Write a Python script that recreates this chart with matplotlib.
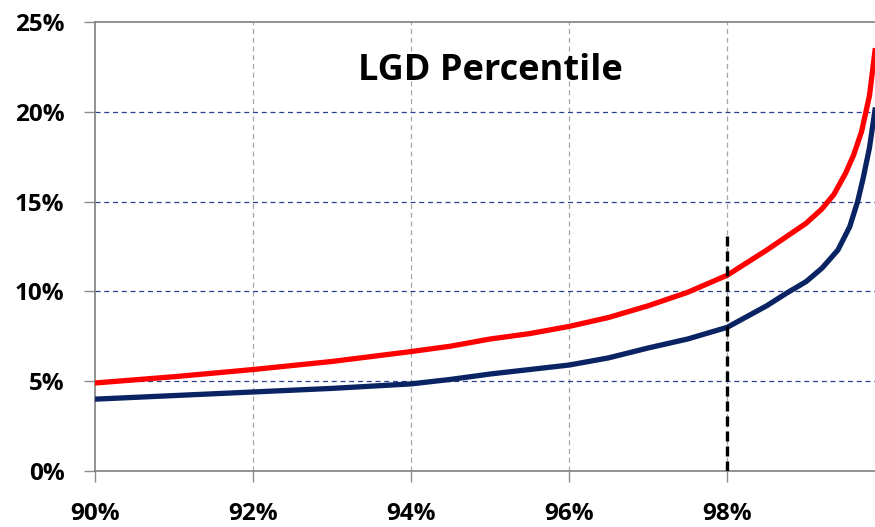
import matplotlib
matplotlib.use("Agg")
import matplotlib.pyplot as plt
from matplotlib.ticker import FuncFormatter

# percentile (x) and LGD (y), both in %
red_x = [90.0, 91.0, 92.0, 93.0, 94.0, 94.5, 95.0, 95.5, 96.0, 96.5, 97.0, 97.5, 98.0,
         98.5, 99.0, 99.2, 99.35, 99.5, 99.6, 99.7, 99.8, 99.87]
red_y = [4.9, 5.25, 5.65, 6.1, 6.65, 6.95, 7.35, 7.65, 8.05, 8.55, 9.2, 9.95, 10.9,
         12.3, 13.8, 14.6, 15.4, 16.6, 17.6, 18.9, 20.9, 23.4]

blue_x = [90.0, 91.0, 92.0, 93.0, 94.0, 94.5, 95.0, 95.5, 96.0, 96.5, 97.0, 97.5, 98.0,
          98.25, 98.5, 98.75, 99.0, 99.2, 99.4, 99.55, 99.65, 99.72, 99.8, 99.87]
blue_y = [4.0, 4.2, 4.4, 4.6, 4.85, 5.1, 5.4, 5.65, 5.9, 6.3, 6.85, 7.35, 8.0,
          8.6, 9.2, 9.9, 10.55, 11.3, 12.3, 13.6, 15.0, 16.3, 18.0, 20.1]

marker_x = 98.0
marker_top = 13.1

x_ticks = [90, 92, 94, 96, 98]
y_ticks = [0, 5, 10, 15, 20, 25]

plt.rcParams['font.family'] = ['Open Sans', 'DejaVu Sans']

fig = plt.figure(figsize=(8.75, 5.27), dpi=100)
ax = fig.add_axes([95 / 875, 56 / 527, 780 / 875, 449 / 527])

ax.plot(red_x, red_y, color='#ff0000', lw=3.8, solid_joinstyle='round', zorder=3)
ax.plot(blue_x, blue_y, color='#0a2463', lw=3.8, solid_joinstyle='round', zorder=3)
ax.vlines(marker_x, 0, marker_top, colors='black', linestyles=(0, (3, 1.5)), lw=2.4, zorder=4)

ax.set_xlim(90, 99.87)
ax.set_ylim(0, 25)
ax.set_xticks(x_ticks)
ax.set_yticks(y_ticks)
ax.xaxis.set_major_formatter(FuncFormatter(lambda v, p: f"{v:.0f}%"))
ax.yaxis.set_major_formatter(FuncFormatter(lambda v, p: f"{v:.0f}%"))

for t in ax.get_xticklabels() + ax.get_yticklabels():
    t.set_fontweight('bold')
    t.set_fontsize(17.5)

ax.tick_params(axis='both', direction='out', length=8, width=1, color='#8c8c8c')
ax.tick_params(axis='x', pad=14)
ax.tick_params(axis='y', pad=14)

# gridlines: gray vertical, navy horizontal
for xv in x_ticks[1:]:
    ax.axvline(xv, color='#a6a6a6', lw=0.9, ls=(0, (4, 3)), zorder=1)
for yv in y_ticks[1:-1]:
    ax.axhline(yv, color='#2a3f8f', lw=0.9, ls=(0, (4, 3)), zorder=1)

for side in ('left', 'bottom', 'top'):
    ax.spines[side].set_color('#7f7f7f')
    ax.spines[side].set_linewidth(1.2)
ax.spines['right'].set_visible(False)

ax.text(95.0, 22.25, 'LGD Percentile', ha='center', va='center', fontsize=26, fontweight='bold')

fig.savefig('out.png', dpi=100)
